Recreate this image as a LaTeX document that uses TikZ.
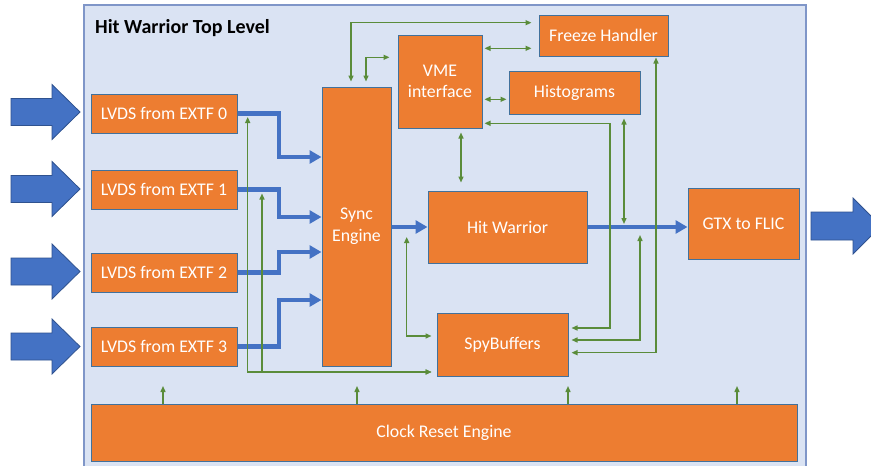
\documentclass[tikz,border=0pt]{standalone}
\usepackage{fontspec}
\setmainfont{Carlito}
\usetikzlibrary{arrows.meta}
\definecolor{orng}{HTML}{ED7D31}
\definecolor{boxline}{HTML}{41719C}
\definecolor{bluearr}{HTML}{4472C4}
\definecolor{bluebord}{HTML}{2F528F}
\definecolor{panel}{HTML}{DAE3F3}
\definecolor{panelline}{HTML}{7F96C8}
\definecolor{gline}{HTML}{5A8C3A}
\begin{document}
\begin{tikzpicture}[x=1pt,y=-1pt,
  blk/.style={draw=boxline, line width=1pt, fill=orng, text=white, inner sep=0pt, align=center, font=\fontsize{17.8}{21.6}\selectfont},
  bus/.style={draw=bluearr, line width=4.5pt, -{Triangle[length=12pt,width=13pt]}},
  sig/.style={draw=gline, line width=1.4pt, >={Triangle[length=6pt,width=5pt]}},
  bigarrow/.style={fill=bluearr, draw=bluebord, line width=0.8pt}]
\useasboundingbox (0,0) rectangle (871,466);
\fill[white] (0,0) rectangle (871,466);
% panel
\fill[panel] (84,5) rectangle (806,466);
\draw[panelline, line width=1.5pt] (84,466) -- (84,5) -- (806,5) -- (806,466);
\node[anchor=base west, inner sep=0pt, font=\bfseries\fontsize{20}{24}\selectfont] (title) at (95,33) {Hit Warrior Top Level};
% blocks
\node[blk, minimum width=146pt, minimum height=39pt] (L0) at (164,113.5) {LVDS from EXTF 0};
\node[blk, minimum width=146pt, minimum height=39pt] (L1) at (164,189.5) {LVDS from EXTF 1};
\node[blk, minimum width=146pt, minimum height=39pt] (L2) at (164,272.5) {LVDS from EXTF 2};
\node[blk, minimum width=146pt, minimum height=39pt] (L3) at (164,346.5) {LVDS from EXTF 3};
\node[blk, minimum width=69pt, minimum height=279pt] (sync) at (356.5,226.5) {Sync\\Engine};
\node[blk, minimum width=84pt, minimum height=93pt] (vme) at (440,81.5) {VME\\interface};
\node[blk, minimum width=129pt, minimum height=41pt] (freeze) at (603.5,35.5) {Freeze Handler};
\node[blk, minimum width=131pt, minimum height=43pt] (hist) at (574.5,92.5) {Histograms};
\node[blk, minimum width=159pt, minimum height=72pt] (hw) at (507.5,227) {Hit Warrior};
\node[blk, minimum width=111pt, minimum height=71pt] (gtx) at (743.5,223.5) {GTX to FLIC};
\node[blk, minimum width=131pt, minimum height=63pt] (spy) at (502.5,344.5) {SpyBuffers};
\node[blk, minimum width=706pt, minimum height=57pt] (clk) at (444,432.5) {Clock Reset Engine};
% big input arrows
\foreach \c in {112,189,271.5,346.5}
  \draw[bigarrow] (11,\c-13.5) -- (52,\c-13.5) -- (52,\c-27.5) -- (80,\c) -- (52,\c+27.5) -- (52,\c+13.5) -- (11,\c+13.5) -- cycle;
% output arrow
\begin{scope}
\clip (0,0) rectangle (871,466);
\draw[bigarrow] (811,212) -- (853,212) -- (853,198) -- (881,226) -- (853,254) -- (853,240) -- (811,240) -- cycle;
\end{scope}
% buses
\draw[bus] (L0.east) -| (279,157) -- (sync.west |- 279,157);
\draw[bus] (L1.east) -| (279,217) -- (sync.west |- 279,217);
\draw[bus] (L2.east) -| (279,252) -- (sync.west |- 279,252);
\draw[bus] (L3.east) -| (279,300) -- (sync.west |- 279,300);
\draw[bus] (sync.east |- hw.west) -- (hw.west);
\draw[bus] (hw.east) -- (gtx.west |- hw.east);
% control signals
\coordinate (hwline1) at (624,227);
\coordinate (hwline2) at (640,227);
\coordinate (syncline) at (406.7,227);
\coordinate (lv0) at (L0.east -| 247.7,0);
\coordinate (lv1) at (L1.east -| 262,0);
\draw[sig,<->, shorten <=5pt, shorten >=7pt] (sync.north -| 351,0) -- (351,22.7) -- (freeze.west |- 0,22.7);
\draw[sig,<->, shorten <=5pt, shorten >=8pt] (sync.north -| 366,0) |- (vme.west |- 0,57.3);
\draw[sig,<->, shorten <=2pt, shorten >=7pt] (vme.east |- 0,48.3) -- (freeze.west |- 0,48.3);
\draw[sig,<->, shorten <=2pt, shorten >=2pt] (vme.east |- 0,99.3) -- (hist.west |- 0,99.3);
\draw[sig,<->, shorten <=2pt, shorten >=3pt] (vme.east |- 0,123.3) -| (610,328) -- (spy.east |- 0,328);
\draw[sig,<->, shorten <=4pt, shorten >=3pt] (hist.south -| 624,0) -- (hwline1);
\draw[sig,<->, shorten <=3pt, shorten >=8pt] (spy.east |- 0,340) -| (hwline2);
\draw[sig,<->, shorten <=1pt, shorten >=3pt] (freeze.south -| 656,0) |- (spy.east |- 0,352.7);
\draw[sig,<->, shorten <=4pt, shorten >=8pt] (vme.south -| 461,0) -- (hw.north -| 461,0);
\draw[sig,<->, shorten <=10pt, shorten >=5pt] (syncline) |- (spy.west |- 0,336);
\draw[sig,<->, shorten <=3.5pt, shorten >=5pt] (lv0) |- (spy.west |- 0,372);
\draw[sig,<->, shorten <=4pt, shorten >=5pt] (lv1) |- (spy.west |- 0,372);
\foreach \x/\n in {163/a,357/b,568/c,737/d} {
  \coordinate (ck\n) at (\x,386);
  \draw[sig,->] (clk.north -| \x,0) -- (ck\n);
}
\end{tikzpicture}
\end{document}
